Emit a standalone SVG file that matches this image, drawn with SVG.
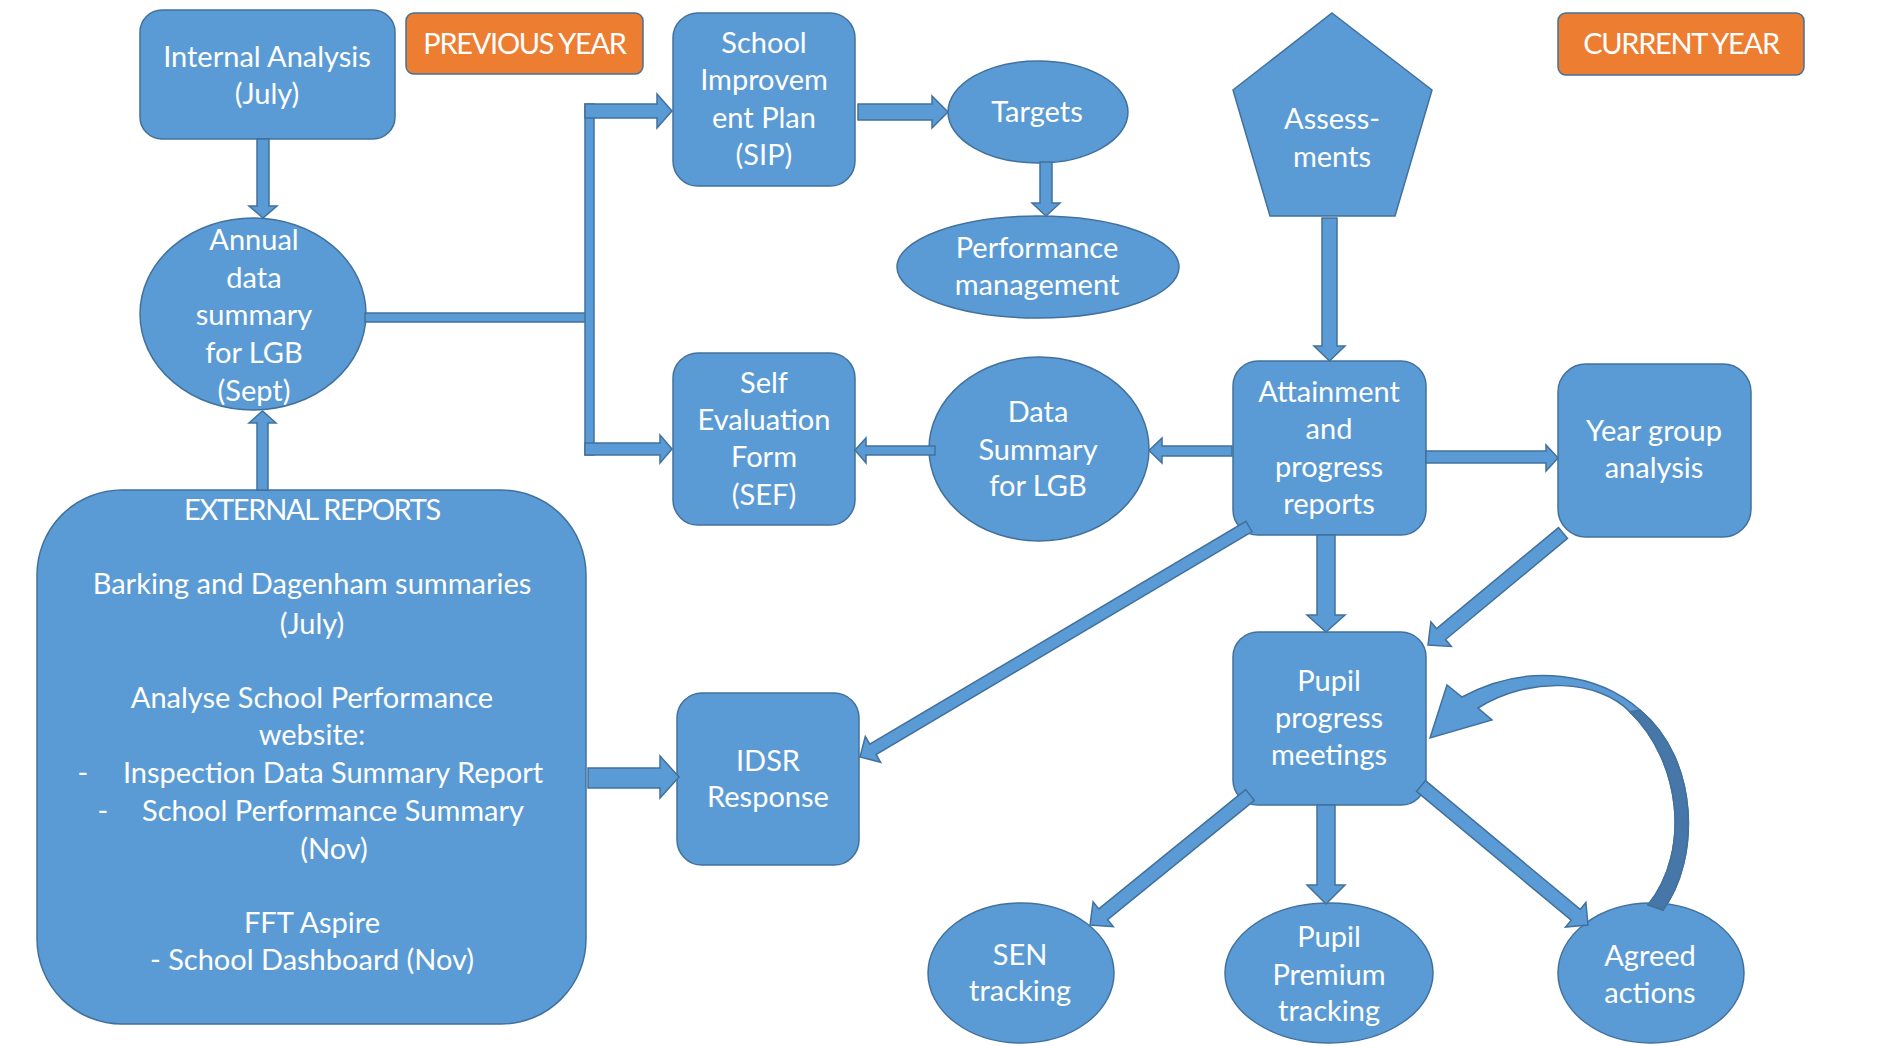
<svg xmlns="http://www.w3.org/2000/svg" width="1883" height="1046" viewBox="0 0 1883 1046">
<style>
.n{fill:#5B9BD5;stroke:#41719C;stroke-width:1.5}
.o{fill:#ED7D31;stroke:#41719C;stroke-width:1.5}
.a{fill:#5B9BD5;stroke:#41719C;stroke-width:1.5;stroke-linejoin:miter}
.d{fill:#4677A8;stroke:#41719C;stroke-width:1.5}
.t{font-family:Lato,"Liberation Sans",sans-serif;font-size:29px;fill:#fff;text-anchor:middle}
.c{letter-spacing:-1.3px}
</style>
<rect width="1883" height="1046" fill="#fff"/>
<g id="internal-analysis"><rect class="n" x="140" y="10" width="255" height="129" rx="22"/><text class="t" x="267" y="67">Internal Analysis</text><text class="t" x="267" y="104">(July)</text></g>
<g id="previous-year"><rect class="o" x="406" y="13" width="237" height="61" rx="8"/><text class="t c" x="524.5" y="54">PREVIOUS YEAR</text></g>
<g id="sip"><rect class="n" x="673" y="13" width="182" height="173" rx="25"/><text class="t" x="764" y="53">School</text><text class="t" x="764" y="90">Improvem</text><text class="t" x="764" y="128">ent Plan</text><text class="t" x="764" y="165">(SIP)</text></g>
<g id="targets"><ellipse class="n" cx="1038" cy="112" rx="90" ry="51"/><text class="t" x="1037" y="122">Targets</text></g>
<g id="performance-management"><ellipse class="n" cx="1038" cy="267" rx="141" ry="51"/><text class="t" x="1037" y="258">Performance</text><text class="t" x="1037" y="295">management</text></g>
<g id="assessments"><polygon class="n" points="1332,13 1432,90 1395,216 1270,216 1233,90"/><text class="t" x="1332" y="129">Assess-</text><text class="t" x="1332" y="167">ments</text></g>
<g id="current-year"><rect class="o" x="1558" y="13" width="246" height="62" rx="8"/><text class="t c" x="1681" y="54">CURRENT YEAR</text></g>
<g id="annual-data-summary"><ellipse class="n" cx="253" cy="314" rx="113" ry="96"/><text class="t" x="254" y="250">Annual</text><text class="t" x="254" y="288">data</text><text class="t" x="254" y="325">summary</text><text class="t" x="254" y="363">for LGB</text><text class="t" x="254" y="401">(Sept)</text></g>
<g id="sef"><rect class="n" x="673" y="353" width="182" height="172" rx="25"/><text class="t" x="764" y="393">Self</text><text class="t" x="764" y="430">Evaluation</text><text class="t" x="764" y="467">Form</text><text class="t" x="764" y="505">(SEF)</text></g>
<g id="data-summary"><ellipse class="n" cx="1039" cy="449" rx="110" ry="92"/><text class="t" x="1038" y="422">Data</text><text class="t" x="1038" y="460">Summary</text><text class="t" x="1038" y="496">for LGB</text></g>
<g id="attainment"><rect class="n" x="1233" y="361" width="193" height="174" rx="25"/><text class="t" x="1329" y="402">Attainment</text><text class="t" x="1329" y="439">and</text><text class="t" x="1329" y="477">progress</text><text class="t" x="1329" y="514">reports</text></g>
<g id="year-group"><rect class="n" x="1558" y="364" width="193" height="173" rx="28"/><text class="t" x="1654" y="441">Year group</text><text class="t" x="1654" y="478">analysis</text></g>
<g id="external-reports"><rect class="n" x="37" y="490" width="549" height="534" rx="85"/>
<text class="t c" x="312" y="520">EXTERNAL REPORTS</text>
<text class="t" x="312" y="594">Barking and Dagenham summaries</text>
<text class="t" x="312" y="634">(July)</text>
<text class="t" x="312" y="708">Analyse School Performance</text>
<text class="t" x="312" y="745">website:</text>
<text class="t" x="83" y="783">-</text><text class="t" x="333" y="783">Inspection Data Summary Report</text>
<text class="t" x="103" y="821">-</text><text class="t" x="333" y="821">School Performance Summary</text>
<text class="t" x="334" y="859">(Nov)</text>
<text class="t" x="312" y="933">FFT Aspire</text>
<text class="t" x="312" y="970">- School Dashboard (Nov)</text></g>
<g id="idsr"><rect class="n" x="677" y="693" width="182" height="172" rx="25"/><text class="t" x="768" y="771">IDSR</text><text class="t" x="768" y="807">Response</text></g>
<g id="pupil-progress"><rect class="n" x="1233" y="632" width="193" height="173" rx="25"/><text class="t" x="1329" y="691">Pupil</text><text class="t" x="1329" y="728">progress</text><text class="t" x="1329" y="765">meetings</text></g>
<g id="sen"><ellipse class="n" cx="1021" cy="973" rx="93" ry="70"/><text class="t" x="1020" y="965">SEN</text><text class="t" x="1020" y="1001">tracking</text></g>
<g id="pupil-premium"><ellipse class="n" cx="1329" cy="973" rx="104" ry="70"/><text class="t" x="1329" y="947">Pupil</text><text class="t" x="1329" y="985">Premium</text><text class="t" x="1329" y="1021">tracking</text></g>
<g id="agreed-actions"><ellipse class="n" cx="1651" cy="973" rx="93" ry="70"/><text class="t" x="1650" y="966">Agreed</text><text class="t" x="1650" y="1003">actions</text></g>
<g id="connectors">
<polygon class="a" points="257,139 269,139 269,206 277,206 263,218 249,206 257,206"/>
<polygon class="a" points="257,490 268,490 268,423 276,423 262.5,411 249,423 257,423"/>
<polygon class="a" points="365,313 586,313 586,322 365,322"/>
<polygon class="a" points="585,104 594,104 594,455 585,455"/>
<polygon class="a" points="585,104 657,104 657,94 672,111 657,128 657,118 585,118"/>
<polygon class="a" points="585,443 660,443 660,435 672,449 660,463 660,455 585,455"/>
<polygon class="a" points="858,104 932,104 932,96 948,112 932,128 932,120 858,120"/>
<polygon class="a" points="1040,162 1052,162 1052,203 1060,203 1046,216 1032,203 1040,203"/>
<polygon class="a" points="1322,218 1337,218 1337,346 1345,346 1329.5,361 1314,346 1322,346"/>
<polygon class="a" points="1426,451 1546,451 1546,445 1558,458 1546,471 1546,463 1426,463"/>
<polygon class="a" points="1232,446 1162,446 1162,438 1149,450.5 1162,463 1162,456 1232,456"/>
<polygon class="a" points="935,446 866,446 866,438 855,450 866,463 866,455 935,455"/>
<polygon class="a" points="588,768 660,768 660,756 679,777 660,798 660,788 588,788"/>
<polygon class="a" points="1317,535 1335,535 1335,615 1345,615 1326,632 1307,615 1317,615"/>
<polygon class="a" points="1317,805 1335,805 1335,885 1345,885 1326,904 1307,885 1317,885"/>
<polygon class="a" points="1567.5,538.4 1445.6,639.5 1451.3,646.4 1428,645 1430.9,621.8 1436.6,628.7 1558.5,527.6"/>
<polygon class="a" points="1252.1,531.7 876,754.5 880.6,762.3 860,757 865.3,736.5 869.8,744.2 1245.9,521.3"/>
<polygon class="a" points="1254.4,800.4 1107.6,919.7 1113.3,926.7 1090,925 1093.1,901.9 1098.8,908.9 1245.6,789.6"/>
<polygon class="a" points="1416.5,791.4 1571.2,920.2 1565.5,927.1 1588,925 1585.9,902.5 1580.2,909.4 1425.5,780.6"/>
<path class="a" d="M1663,910 C1700,860 1700,760 1640,710 C1600,675 1530,660 1462,697 L1447,685 L1430,738 L1492,720 L1478,708 C1530,675 1600,680 1630,712 C1680,760 1692,850 1648,905 Z"/>
<path class="d" d="M1663,910 C1700,860 1700,760 1640,710 L1630,712 C1680,760 1692,850 1648,905 Z"/>
</g>
</svg>
